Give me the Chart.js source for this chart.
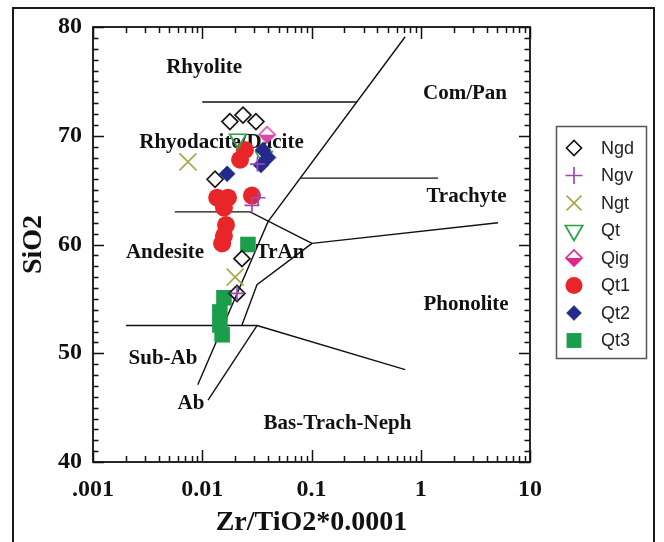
<!DOCTYPE html>
<html>
<head>
<meta charset="utf-8">
<script src="https://cdn.jsdelivr.net/npm/chart.js@4.4.1/dist/chart.umd.min.js"></script>
<style>
  html, body { margin: 0; padding: 0; background: #fff; }
  canvas { display: block; }
</style>
</head>
<body>
<canvas id="c" width="664" height="542"></canvas>
<script>
// ---- Axis ticks ----
const xTickValues = [0.001, 0.01, 0.1, 1, 10];
const xTickLabels = ['.001', '0.01', '0.1', '1', '10'];
const yTickValues = [40, 50, 60, 70, 80];
const yTickLabels = ['40', '50', '60', '70', '80'];

// ---- Samples: [Zr/TiO2*0.0001, SiO2] ----
const ngd = [[0.0179, 71.3], [0.0236, 71.9], [0.031, 71.3], [0.0131, 66.0], [0.0231, 58.7], [0.0208, 55.5]];
const ngv = [[0.032, 67.4], [0.0285, 63.6], [0.0324, 64.3], [0.0208, 55.5]];
const ngt = [[0.0074, 67.6], [0.020, 57.0]];
const qt  = [[0.0212, 69.7], [0.0367, 68.1]];
const qig = [[0.0392, 70.1]];
const qt1 = [[0.0246, 68.7], [0.0222, 67.8], [0.0137, 64.3], [0.0172, 64.3], [0.0158, 63.4],
             [0.0285, 64.5], [0.0165, 61.8], [0.0158, 60.8], [0.0152, 60.1]];
const qt2 = [[0.0169, 66.5], [0.036, 68.7], [0.040, 68.0], [0.0345, 67.3]];
const qt3 = [[0.0262, 60.0], [0.0158, 55.1], [0.0145, 53.8], [0.0145, 52.6], [0.0152, 51.7]];

// ---- Field boundaries ----
const bndRhyolite  = [[0.01, 73.1], [0.26, 73.1]];
const bndAlkaline  = [[0.0091, 47.1], [0.040, 62.1], [0.72, 79.1]];
const bndDacite    = [[0.0056, 63.0], [0.0274, 63.0], [0.101, 60.1]];
const bndTrAnTop   = [[0.101, 60.1], [5.1, 62.0]];
const bndTrachyte  = [[0.08, 66.1], [1.44, 66.1]];
const bndTrAnBase  = [[0.101, 60.1], [0.0317, 56.3], [0.0231, 52.6]];
const bndSubAb     = [[0.002, 52.55], [0.0317, 52.55]];
const bndPhonolite = [[0.0317, 52.55], [0.72, 48.5]];
const bndAb        = [[0.0317, 52.55], [0.0113, 45.7]];

// ---- Field names: [text, x, y] ----
const fieldNames = [
  ['Rhyolite', 0.0104, 76.3],
  ['Com/Pan', 2.54, 73.9],
  ['Rhyodacite/Dacite', 0.015, 69.35],
  ['Trachyte', 2.62, 64.4],
  ['Andesite', 0.00456, 59.3],
  ['TrAn', 0.0515, 59.3],
  ['Phonolite', 2.60, 54.5],
  ['Sub-Ab', 0.00437, 49.55],
  ['Ab', 0.00789, 45.4],
  ['Bas-Trach-Neph', 0.173, 43.5]
];

const pts = arr => arr.map(([x, y]) => ({ x, y }));

// half-filled diamond marker
function halfDiamond(r, color) {
  const s = Math.ceil(2 * r + 4);
  const c = document.createElement('canvas');
  c.width = s; c.height = s;
  const g = c.getContext('2d');
  const m = s / 2;
  g.beginPath(); g.moveTo(m - r, m); g.lineTo(m + r, m); g.lineTo(m, m + r); g.closePath();
  g.fillStyle = color; g.fill();
  g.beginPath(); g.moveTo(m, m - r); g.lineTo(m + r, m); g.lineTo(m, m + r); g.lineTo(m - r, m); g.closePath();
  g.strokeStyle = color; g.lineWidth = 1.7; g.stroke();
  return c;
}
const qigMarker = halfDiamond(8, '#d94aa8');
const qigLegendMarker = halfDiamond(8, '#e2268e');

const NONE = 'rgba(0,0,0,0)';
const series = [
  { label: 'Ngd', data: pts(ngd), pointStyle: 'rectRot', pointRadius: 8, backgroundColor: NONE, borderColor: '#151515', borderWidth: 1.7, order: 8, lr: 7.5 },
  { label: 'Ngv', data: pts(ngv), pointStyle: 'cross', pointRadius: 7.5, backgroundColor: NONE, borderColor: '#a046b4', borderWidth: 1.7, order: 3, lr: 8.5 },
  { label: 'Ngt', data: pts(ngt), pointStyle: 'crossRot', pointRadius: 12, backgroundColor: NONE, borderColor: '#a9a84a', borderWidth: 1.7, order: 4, lr: 10.5 },
  { label: 'Qt', data: pts(qt), pointStyle: 'triangle', pointRotation: 180, pointRadius: 9.5, backgroundColor: NONE, borderColor: '#27a24a', borderWidth: 1.7, order: 7, lr: 10 },
  { label: 'Qig', data: pts(qig), pointStyle: qigMarker, pointRadius: 8, backgroundColor: NONE, borderColor: '#d94aa8', borderWidth: 0, order: 5, legendImg: qigLegendMarker },
  { label: 'Qt1', data: pts(qt1), pointStyle: 'circle', pointRadius: 9, backgroundColor: '#e8262a', borderColor: '#e8262a', borderWidth: 0, order: 10, lr: 8.5 },
  { label: 'Qt2', data: pts(qt2), pointStyle: 'rectRot', pointRadius: 8, backgroundColor: '#232a8c', borderColor: '#232a8c', borderWidth: 0.5, order: 6, lr: 7.5 },
  { label: 'Qt3', data: pts(qt3), pointStyle: 'rect', pointRadius: 11, backgroundColor: '#1a9e4c', borderColor: '#1a9e4c', borderWidth: 0, order: 9, lr: 10.5 }
];

const boundaries = [bndRhyolite, bndAlkaline, bndDacite, bndTrAnTop, bndTrachyte,
                    bndTrAnBase, bndSubAb, bndPhonolite, bndAb].map(b => ({
  data: pts(b), showLine: true, pointRadius: 0, pointHoverRadius: 0,
  borderColor: '#111', borderWidth: 1.4, fill: false, tension: 0, order: 100
}));

const serif = "'Liberation Serif', 'Times New Roman', serif";

// page frame, field names, tick marks and legend
const decor = {
  id: 'decor',
  beforeDraw(chart) {
    const ctx = chart.ctx;
    ctx.save();
    ctx.fillStyle = '#fff';
    ctx.fillRect(0, 0, chart.width, chart.height);
    ctx.strokeStyle = '#1a1a1a';
    ctx.lineWidth = 2;
    ctx.strokeRect(13, 8, 641, 560);
    ctx.restore();
  },
  beforeDatasetsDraw(chart) {
    const { ctx, scales: { x, y } } = chart;
    ctx.save();
    ctx.fillStyle = '#111';
    ctx.font = 'bold 21px ' + serif;
    ctx.textAlign = 'center';
    ctx.textBaseline = 'middle';
    fieldNames.forEach(([t, vx, vy]) => ctx.fillText(t, x.getPixelForValue(vx), y.getPixelForValue(vy)));
    ctx.restore();
  },
  afterDraw(chart) {
    const { ctx, chartArea: a, scales: { x, y } } = chart;
    ctx.save();
    ctx.strokeStyle = '#111';
    ctx.lineWidth = 1.5;
    ctx.beginPath();
    // x ticks, log decades with minors
    for (let d = -3; d <= 1; d++) {
      for (let m = 1; m <= 9; m++) {
        const v = m * Math.pow(10, d);
        if (v > 10.0001) break;
        const px = Math.round(x.getPixelForValue(v)) + 0.5;
        const len = m === 1 ? 12 : 6;
        ctx.moveTo(px, a.bottom); ctx.lineTo(px, a.bottom - len);
        ctx.moveTo(px, a.top); ctx.lineTo(px, a.top + len);
      }
    }
    // y ticks, every unit
    for (let v = 40; v <= 80; v++) {
      const py = Math.round(y.getPixelForValue(v)) + 0.5;
      const len = v % 10 === 0 ? 11 : 5.5;
      ctx.moveTo(a.left, py); ctx.lineTo(a.left + len, py);
      ctx.moveTo(a.right, py); ctx.lineTo(a.right - len, py);
    }
    ctx.stroke();
    ctx.lineWidth = 1.8;
    ctx.strokeRect(a.left, a.top, a.right - a.left, a.bottom - a.top);

    // legend
    ctx.lineWidth = 1.5;
    ctx.strokeStyle = '#555';
    ctx.strokeRect(556.5, 126.5, 90, 232);
    ctx.font = "18px 'Liberation Sans', Arial, sans-serif";
    ctx.textAlign = 'left';
    ctx.textBaseline = 'middle';
    series.forEach((s, i) => {
      const cy = 148 + i * 27.5;
      const cx = 574;
      if (s.legendImg) {
        ctx.drawImage(s.legendImg, cx - s.legendImg.width / 2, cy - s.legendImg.height / 2);
      } else {
        ctx.fillStyle = s.backgroundColor;
        ctx.strokeStyle = s.borderColor;
        ctx.lineWidth = s.borderWidth || 1;
        Chart.helpers.drawPoint(ctx, {
          pointStyle: s.pointStyle, radius: s.lr, rotation: s.pointRotation || 0,
          borderWidth: s.borderWidth
        }, cx, cy);
      }
      ctx.fillStyle = '#222';
      ctx.fillText(s.label, 601, cy + 1);
    });
    ctx.restore();
  }
};

new Chart(document.getElementById('c'), {
  type: 'scatter',
  data: { datasets: [...series, ...boundaries] },
  options: {
    responsive: false,
    animation: false,
    devicePixelRatio: 1,
    layout: { padding: { left: 0, top: 27, right: 134, bottom: 0 } },
    plugins: { legend: { display: false }, tooltip: { enabled: false } },
    elements: { line: { tension: 0 } },
    scales: {
      x: {
        type: 'logarithmic',
        min: 0.001, max: 10,
        afterBuildTicks: s => { s.ticks = xTickValues.map(v => ({ value: v })); },
        afterFit: s => { s.height = 80; },
        grid: { display: false, drawTicks: false },
        border: { display: false },
        ticks: {
          autoSkip: false, maxRotation: 0, padding: 13, color: '#111',
          font: { family: serif, size: 24, weight: 'bold' },
          callback: v => xTickLabels[xTickValues.findIndex(t => Math.abs(t - v) < t * 1e-6)]
        },
        title: {
          display: true, text: 'Zr/TiO2*0.0001', color: '#111',
          font: { family: serif, size: 28, weight: 'bold' },
          padding: { top: 0, bottom: 2 }
        }
      },
      y: {
        min: 40, max: 80,
        afterBuildTicks: s => { s.ticks = yTickValues.map(v => ({ value: v })); },
        afterFit: s => { s.width = 93; },
        grid: { display: false, drawTicks: false },
        border: { display: false },
        ticks: {
          padding: 11, color: '#111',
          font: { family: serif, size: 24, weight: 'bold' },
          callback: v => yTickLabels[yTickValues.indexOf(v)]
        },
        title: {
          display: true, text: 'SiO2', color: '#111',
          font: { family: serif, size: 28, weight: 'bold' },
          padding: { top: 17, bottom: 0 }
        }
      }
    }
  },
  plugins: [decor]
});
</script>
</body>
</html>
